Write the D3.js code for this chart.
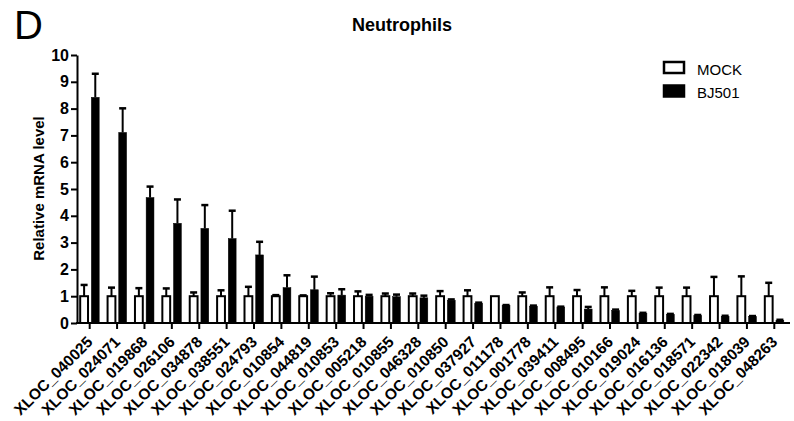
<!DOCTYPE html>
<html>
<head>
<meta charset="utf-8">
<script src="https://cdn.jsdelivr.net/npm/d3@7"></script>
<style>
  body { margin: 0; background: #fff; }
  text { font-family: "Liberation Sans", Arial, sans-serif; }
</style>
</head>
<body>
<div id="chart"></div>
<script>
// genes on the x axis
var genes = ["XLOC_040025", "XLOC_024071", "XLOC_019868", "XLOC_026106", "XLOC_034878",
  "XLOC_038551", "XLOC_024793", "XLOC_010854", "XLOC_044819", "XLOC_010853",
  "XLOC_005218", "XLOC_010855", "XLOC_046328", "XLOC_010850", "XLOC_037927",
  "XLOC_011178", "XLOC_001778", "XLOC_039411", "XLOC_008495", "XLOC_010166",
  "XLOC_019024", "XLOC_016136", "XLOC_018571", "XLOC_022342", "XLOC_018039",
  "XLOC_048263"];

var series = ["MOCK", "BJ501"];

// relative mRNA level
var mock = [1, 1, 1, 1, 1, 1, 1, 1, 1, 1, 1, 1, 1, 1, 1, 1, 1, 1, 1, 1, 1, 1, 1, 1, 1, 1];
var mockErr = [0.42, 0.32, 0.30, 0.29, 0.14, 0.22, 0.35, 0.04, 0.03, 0.11, 0.18, 0.10,
  0.10, 0.19, 0.22, 0, 0.14, 0.33, 0.23, 0.33, 0.20, 0.32, 0.32, 0.72, 0.74, 0.50];

var bj501 = [8.42, 7.11, 4.68, 3.72, 3.53, 3.15, 2.54, 1.32, 1.24, 1.04, 1.0, 0.98, 0.94,
  0.85, 0.74, 0.66, 0.63, 0.6, 0.52, 0.46, 0.36, 0.32, 0.28, 0.25, 0.24, 0.1];
var bj501Err = [0.88, 0.90, 0.41, 0.89, 0.87, 1.04, 0.49, 0.46, 0.49, 0.22, 0.05, 0.08,
  0.08, 0.03, 0.02, 0.01, 0.02, 0.01, 0.08, 0.04, 0.02, 0.02, 0.02, 0.02, 0.02, 0.02];

var yTicks = [0, 1, 2, 3, 4, 5, 6, 7, 8, 9, 10];

var width = 794, height = 421;

var svg = d3.select("#chart")
  .append("svg")
  .attr("width", width)
  .attr("height", height);

var x0 = d3.scaleBand()
  .domain(genes)
  .range([76, 788]);

var x1 = d3.scaleBand()
  .domain(series)
  .range([-9.5, 9.5])
  .paddingInner(0.3);

var y = d3.scaleLinear()
  .domain([0, 10])
  .range([323, 55]);

// panel letter + title
svg.append("text")
  .attr("x", 14).attr("y", 39)
  .attr("font-size", 40)
  .text("D");

svg.append("text")
  .attr("x", 402).attr("y", 31)
  .attr("text-anchor", "middle")
  .attr("font-size", 18)
  .attr("font-weight", "bold")
  .text("Neutrophils");

// y label
svg.append("text")
  .attr("transform", "translate(43.5," + 188.5 + ") rotate(-90)")
  .attr("text-anchor", "middle")
  .attr("font-size", 15)
  .attr("font-weight", "bold")
  .text("Relative mRNA level");

// rows of grouped data
var rows = genes.map(function(g, i) {
  return {gene: g, vals: [
    {key: "MOCK", v: mock[i], e: mockErr[i]},
    {key: "BJ501", v: bj501[i], e: bj501Err[i]}
  ]};
});

var groups = svg.append("g")
  .selectAll("g")
  .data(rows)
  .enter()
  .append("g")
  .attr("transform", function(d) { return "translate(" + (x0(d.gene) + x0.bandwidth() / 2) + ",0)"; });

var items = groups.selectAll("g")
  .data(function(d) { return d.vals; })
  .enter()
  .append("g");

// error bars (upper only)
items.filter(function(d) { return d.e > 0; })
  .append("line")
  .attr("x1", function(d) { return x1(d.key) + x1.bandwidth() / 2; })
  .attr("x2", function(d) { return x1(d.key) + x1.bandwidth() / 2; })
  .attr("y1", function(d) { return y(d.v); })
  .attr("y2", function(d) { return y(d.v + d.e); })
  .attr("stroke", "#000")
  .attr("stroke-width", 2);

items.filter(function(d) { return d.e > 0; })
  .append("line")
  .attr("x1", function(d) { return x1(d.key) + x1.bandwidth() / 2 - 3.5; })
  .attr("x2", function(d) { return x1(d.key) + x1.bandwidth() / 2 + 3.5; })
  .attr("y1", function(d) { return y(d.v + d.e); })
  .attr("y2", function(d) { return y(d.v + d.e); })
  .attr("stroke", "#000")
  .attr("stroke-width", 2.5);

items.append("rect")
  .attr("x", function(d) { return x1(d.key); })
  .attr("width", x1.bandwidth())
  .attr("y", function(d) { return y(d.v); })
  .attr("height", function(d) { return y(0) - y(d.v); })
  .attr("fill", function(d) { return d.key == "MOCK" ? "#fff" : "#000"; })
  .attr("stroke", "#000")
  .attr("stroke-width", function(d) { return d.key == "MOCK" ? 2 : 0.5; });

// axes
var yAxis = svg.append("g")
  .attr("transform", "translate(77,0)")
  .call(d3.axisLeft(y).tickValues(yTicks).tickSize(6).tickSizeOuter(0).tickPadding(2));

var xAxis = svg.append("g")
  .attr("transform", "translate(0,323)")
  .call(d3.axisBottom(x0).tickSize(6).tickSizeOuter(0).tickFormat(""));

svg.selectAll(".domain, .tick line")
  .attr("stroke", "#000")
  .attr("stroke-width", 2);

xAxis.select(".domain").attr("d", "M76,0H790");

yAxis.selectAll("text")
  .attr("font-family", "'Liberation Sans', Arial, sans-serif")
  .attr("font-size", 16)
  .attr("font-weight", "bold")
  .attr("fill", "#000");

// rotated gene labels
svg.append("g")
  .selectAll("text")
  .data(genes)
  .enter()
  .append("text")
  .attr("transform", function(d) {
    return "translate(" + (x0(d) + x0.bandwidth() / 2 + 4) + ",343) rotate(-45)";
  })
  .attr("text-anchor", "end")
  .attr("font-size", 15.5)
  .attr("font-weight", "bold")
  .text(function(d) { return d; });

// legend
var legend = svg.append("g");
series.forEach(function(s, i) {
  legend.append("rect")
    .attr("x", 664).attr("y", 62 + i * 23.5)
    .attr("width", 20).attr("height", 11)
    .attr("fill", s == "MOCK" ? "#fff" : "#000")
    .attr("stroke", "#000")
    .attr("stroke-width", 2.5);
  legend.append("text")
    .attr("x", 697).attr("y", 74.5 + i * 23.5)
    .attr("font-size", 15)
    .text(s);
});
</script>
</body>
</html>
